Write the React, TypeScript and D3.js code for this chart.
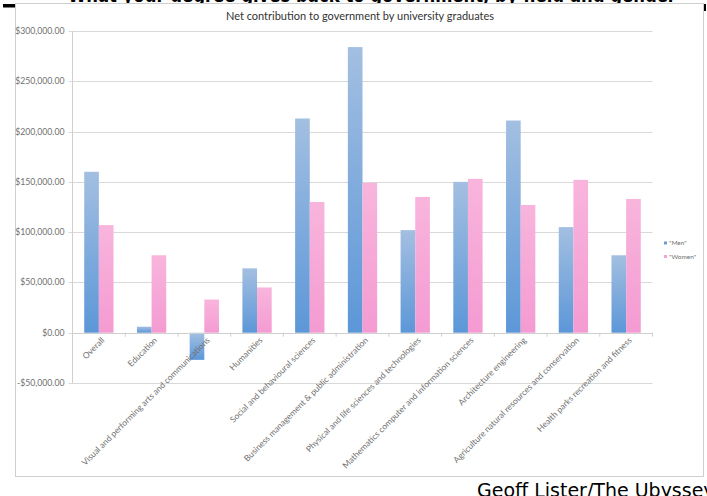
import React from "react";
import * as d3 from "d3";

const categories = [
  "Overall",
  "Education",
  "Visual and performing arts and communications",
  "Humanities",
  "Social and behavioural sciences",
  "Business management & public administration",
  "Physical and life sciences and technologies",
  "Mathematics computer and information sciences",
  "Architecture engineering",
  "Agriculture natural resources and conservation",
  "Health parks recreation and fitness",
];
const seriesNames = ["\"Men\"", "\"Women\""];
const menValues = [160000, 6000, -27000, 64000, 213000, 284000, 102000, 150000, 211000, 105000, 77000];
const womenValues = [107000, 77000, 33000, 45000, 130000, 149000, 135000, 153000, 127000, 152000, 133000];
const yTickValues = [-50000, 0, 50000, 100000, 150000, 200000, 250000, 300000];
const chartTitle = "Net contribution to government by university graduates";
const creditText = "Geoff Lister/The Ubyssey";
const headingText = "What your degree gives back to government, by field and gender";

const W = 707;
const H = 496;

export default function App() {
  const x = d3.scaleBand<string>().domain(categories).range([72.5, 652.5]).paddingInner(0).paddingOuter(0);
  const x1 = d3.scaleBand<string>().domain(seriesNames).range([0, x.bandwidth()]).paddingInner(0).paddingOuter(0.8);
  const y = d3.scaleLinear().domain([-50000, 300000]).range([383, 31]);
  const fmt = (v: number) => (v < 0 ? "-$" : "$") + d3.format(",.2f")(Math.abs(v));
  const series = [
    { name: seriesNames[0], values: menValues, fill: "url(#gMen)", color: "#6d9bd3" },
    { name: seriesNames[1], values: womenValues, fill: "url(#gWomen)", color: "#f3a2d5" },
  ];
  const font = "Lato, 'Open Sans', sans-serif";
  const y0 = y(0);

  return (
    <svg width={W} height={H} style={{ position: "absolute", left: 0, top: 0, background: "#fff" }}>
      <defs>
        <linearGradient id="gMen" x1="0" y1="0" x2="0" y2="1">
          <stop offset="0" stopColor="#a3bfe1" />
          <stop offset="1" stopColor="#5c97d8" />
        </linearGradient>
        <linearGradient id="gWomen" x1="0" y1="0" x2="0" y2="1">
          <stop offset="0" stopColor="#f8b5dc" />
          <stop offset="1" stopColor="#f49bd2" />
        </linearGradient>
      </defs>
      <rect x={0} y={0} width={W} height={H} fill="#fff" />
      {/* page heading, cut off at top as in the screenshot */}
      <text x={68} y={2} fontFamily="'DejaVu Sans', sans-serif" fontWeight="bold" fontSize={22}
        textLength={608} lengthAdjust="spacingAndGlyphs" fill="#000">{headingText}</text>
      <rect x={3} y={4} width={12} height={3.5} fill="#000" />
      <rect x={700} y={4} width={6} height={7} fill="#000" />
      {/* chart frame */}
      <rect x={15.5} y={3.5} width={688} height={473} fill="#fff" stroke="#cfcfcf" />
      <text x={360} y={20} textAnchor="middle" fontFamily={font} fontSize={11} fill="#333">{chartTitle}</text>
      {/* gridlines and y labels */}
      {yTickValues.map((v) => (
        <g key={v}>
          <line x1={68.5} x2={652.5} y1={Math.round(y(v)) + 0.5} y2={Math.round(y(v)) + 0.5} stroke="#d9d9d9" />
          <text x={64.5} y={y(v) + 3} textAnchor="end" fontFamily={font} fontSize={8.7} fill="#707070">{fmt(v)}</text>
        </g>
      ))}
      <line x1={72.5} x2={72.5} y1={y(300000)} y2={y(-50000)} stroke="#cfcfcf" />
      {/* bars */}
      {series.map((s) => (
        <g key={s.name}>
          {categories.map((c, i) => {
            const v = s.values[i];
            const yy = y(Math.max(0, v));
            const h = Math.abs(y(v) - y0);
            return <rect key={c} x={(x(c) ?? 0) + (x1(s.name) ?? 0)} y={yy} width={x1.bandwidth()} height={h} fill={s.fill} />;
          })}
        </g>
      ))}
      {/* x axis at zero */}
      <line x1={72.5} x2={652.5} y1={Math.round(y0) + 0.5} y2={Math.round(y0) + 0.5} stroke="#cfcfcf" />
      {categories.concat([""]).map((c, i) => {
        const xx = 72.5 + i * x.step();
        return <line key={"t" + i} x1={xx} x2={xx} y1={y0} y2={y0 + 4} stroke="#cfcfcf" />;
      })}
      {/* x labels */}
      {categories.map((c) => {
        const cx = (x(c) ?? 0) + x.bandwidth() / 2;
        return (
          <text key={c} transform={`translate(${cx + 4},${y0 + 6}) rotate(-45)`} textAnchor="end" dy="0.35em"
            fontFamily={font} fontSize={8.5} fill="#707070">{c}</text>
        );
      })}
      {/* legend */}
      {series.map((s, i) => (
        <g key={s.name}>
          <rect x={664} y={241.5 + i * 13.5} width={3} height={3} fill={s.color} />
          <text x={669} y={245 + i * 13.5} fontFamily={font} fontSize={6.5} fill="#707070">{s.name}</text>
        </g>
      ))}
      <text x={477} y={496.5} fontFamily="'DejaVu Sans', Verdana, sans-serif" fontSize={19} fill="#000">{creditText}</text>
    </svg>
  );
}
